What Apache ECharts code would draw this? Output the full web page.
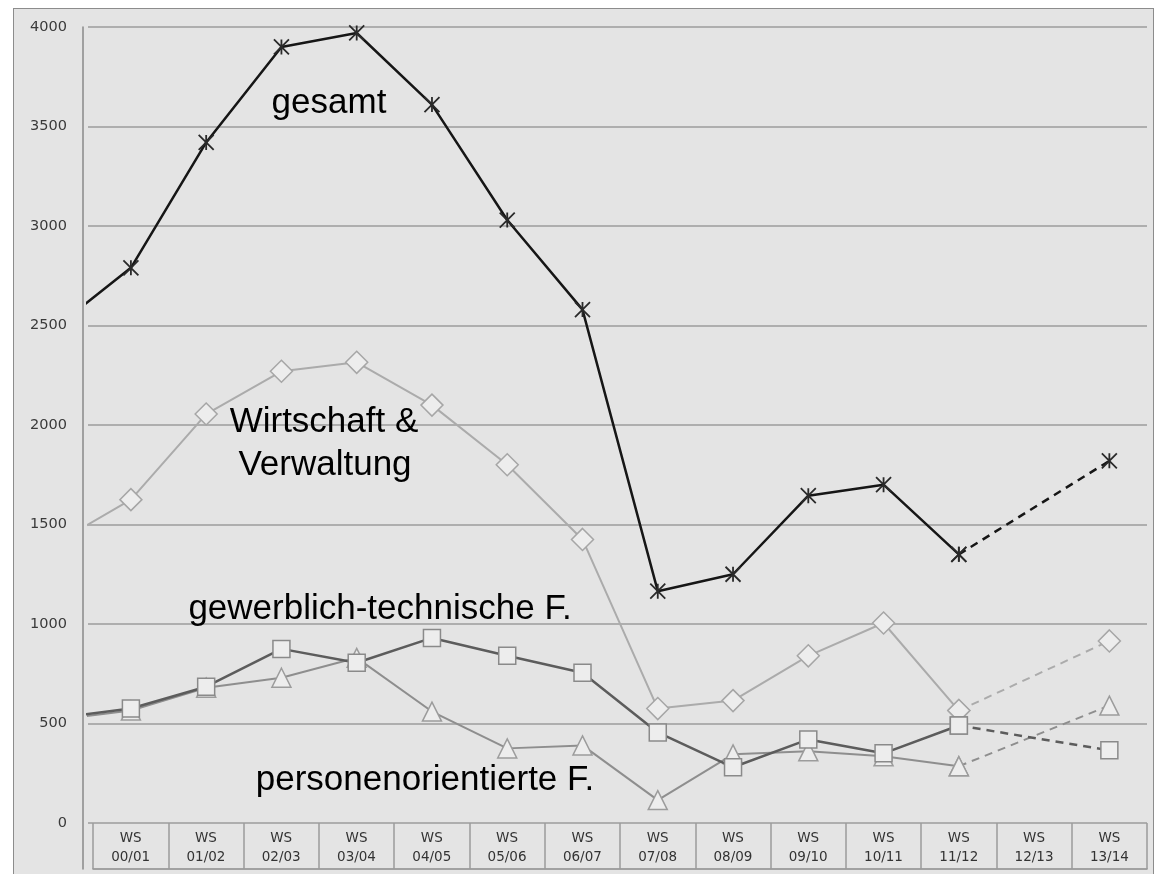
<!DOCTYPE html>
<html><head><meta charset="utf-8">
<script src="https://cdn.jsdelivr.net/npm/echarts@6/dist/echarts.min.js"></script>
<style>
html,body{margin:0;padding:0;background:#fff;}
#panel{position:absolute;left:13px;top:8px;width:1141px;height:870px;background:#e4e4e4;border:1px solid #8c8c8c;box-sizing:border-box;}
#c{position:absolute;left:0;top:0;width:1157px;height:874px;}
</style>
</head><body>
<div id="panel"></div>
<div id="c"></div>
<script>
// Semester labels (x axis)
const categories = ['00/01','01/02','02/03','03/04','04/05','05/06','06/07','07/08','08/09','09/10','10/11','11/12','12/13','13/14'];
// y-axis ticks
const yTicks = [0,500,1000,1500,2000,2500,3000,3500,4000];
// values of the semester before WS 00/01 (only the entering segment is visible)
const gesamtPrev = 2490;
const wirtschaftPrev = 1405;
const gewerblichPrev = 528;
const personenPrev = 518;
// series values (null = no value for WS 12/13)
const gesamt     = [2790,3420,3900,3970,3610,3030,2580,1165,1250,1645,1700,1350,null,1820];
const wirtschaft = [1625,2055,2270,2315,2100,1800,1425, 575, 615, 840,1005, 565,null, 915];
const gewerblich = [ 575, 685, 875, 805, 930, 840, 755, 455, 280, 420, 350, 490,null, 365];
const personen   = [ 565, 680, 730, 830, 560, 375, 390, 115, 345, 360, 335, 285,null, 590];

const LAST_SOLID = 11;
function solidPart(prev, vals){
  const out = [[-1, prev]];
  for (let i = 0; i <= LAST_SOLID; i++) out.push([i, vals[i]]);
  return out;
}
function dashedPart(vals){
  const out = [];
  for (let i = LAST_SOLID; i < vals.length; i++) if (vals[i] != null) out.push([i, vals[i]]);
  return out;
}

const starPath = 'path://M0,0L10,10M10,0L0,10M5,0L5,10';
const styles = {
  gesamt:     {line:'#161616', width:2.5, symbol:starPath, size:15, itemStyle:{color:'none', borderColor:'#2a2a2a', borderWidth:1.8}},
  wirtschaft: {line:'#ababab', width:2,   symbol:'diamond', size:22, itemStyle:{color:'#ededed', borderColor:'#a6a6a6', borderWidth:1.5}},
  gewerblich: {line:'#5c5c5c', width:2.5, symbol:'rect', size:17, itemStyle:{color:'#ededed', borderColor:'#8a8a8a', borderWidth:1.5}},
  personen:   {line:'#8e8e8e', width:2,   symbol:'triangle', size:19, itemStyle:{color:'#ededed', borderColor:'#9c9c9c', borderWidth:1.5}}
};
function mk(name, data, st, dashed, z){
  return {
    name, type:'line', xAxisIndex:0, yAxisIndex:0, data,
    symbol: st.symbol, symbolSize: st.size, showAllSymbol:true,
    lineStyle:{color:st.line, width:st.width, type: dashed ? [8,6] : 'solid'},
    itemStyle: Object.assign({}, st.itemStyle),
    z: z, animation:false, clip:true
  };
}
const series = [
  mk('Wirtschaft & Verwaltung', solidPart(wirtschaftPrev, wirtschaft), styles.wirtschaft, false, 3),
  mk('Wirtschaft & Verwaltung', dashedPart(wirtschaft), styles.wirtschaft, true, 3),
  mk('personenorientierte F.', solidPart(personenPrev, personen), styles.personen, false, 4),
  mk('personenorientierte F.', dashedPart(personen), styles.personen, true, 4),
  mk('gewerblich-technische F.', solidPart(gewerblichPrev, gewerblich), styles.gewerblich, false, 5),
  mk('gewerblich-technische F.', dashedPart(gewerblich), styles.gewerblich, true, 5),
  mk('gesamt', solidPart(gesamtPrev, gesamt), styles.gesamt, false, 6),
  mk('gesamt', dashedPart(gesamt), styles.gesamt, true, 6)
];

const chart = echarts.init(document.getElementById('c'), null, {renderer:'canvas'});
const annFont = '"Liberation Sans", Arial, sans-serif';
function ann(text, x, y){
  return {type:'text', x, y, style:{text, x:0, y:0, fill:'#000', font:'35px ' + annFont, textAlign:'center', textVerticalAlign:'middle'}, z:100};
}
chart.setOption({
  animation:false,
  backgroundColor:'transparent',
  grid:[
    {left:88, right:10, top:27, bottom:51},
    {left:93, right:10, top:27, bottom:5}
  ],
  xAxis:[
    {type:'value', gridIndex:0, min:-0.57, max:13.5, show:false},
    {type:'category', gridIndex:1, data:categories.map(c => 'WS\n' + c), boundaryGap:true,
     axisLine:{show:true, lineStyle:{color:'#8a8a8a', width:1.5}},
     axisTick:{show:true, inside:true, length:46, interval:0, alignWithLabel:false, lineStyle:{color:'#9a9a9a', width:1.5}},
     axisLabel:{inside:true, interval:0, margin:2, color:'#333', fontFamily:'"DejaVu Sans", sans-serif', fontSize:13.5, lineHeight:19, verticalAlign:'bottom'},
     splitLine:{show:false}}
  ],
  yAxis:[
    {type:'value', gridIndex:0, min:yTicks[0], max:yTicks[yTicks.length-1], interval:yTicks[1]-yTicks[0],
     axisLine:{show:false}, axisTick:{show:false},
     axisLabel:{color:'#3a3a3a', fontFamily:'"DejaVu Sans", sans-serif', fontSize:14.5, margin:21, formatter: v => String(v)},
     splitLine:{show:true, lineStyle:{color:'#9c9c9c', width:1.6}}},
    {type:'value', gridIndex:1, min:0, max:1, show:true, offset:10,
     axisLine:{show:true, lineStyle:{color:'#8a8a8a', width:1.5}}, axisTick:{show:false}, axisLabel:{show:false}, splitLine:{show:false}}
  ],
  graphic:[
    ann('gesamt', 329, 103),
    ann('Wirtschaft &', 324, 422),
    ann('Verwaltung', 325, 465),
    ann('gewerblich-technische F.', 380, 609),
    ann('personenorientierte F.', 425, 780)
  ],
  series
});
</script>
</body></html>
